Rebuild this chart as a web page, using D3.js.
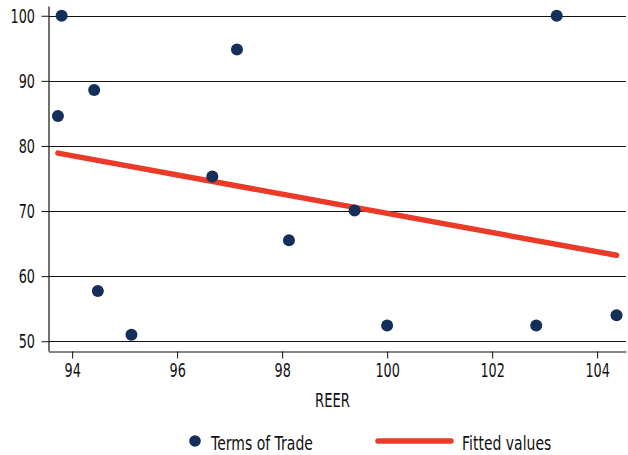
<!DOCTYPE html>
<html>
<head>
<meta charset="utf-8">
<script src="https://cdn.jsdelivr.net/npm/d3@7"></script>
<style>
    body { margin: 0; background: #fff; }
    text { font-family: "DejaVu Sans", sans-serif; fill: #111; }
    .axis path, .axis line { stroke: #111; }
</style>
</head>
<body>
<div id="chart"></div>
<script>
const WIDTH = 628;
const HEIGHT = 455;

// scatter points
const reer = [93.73, 93.80, 94.42, 94.49, 95.13, 96.67, 97.14, 98.13, 99.38, 100.0, 102.84, 103.23, 104.37];
const termsOfTrade = [84.6, 100.0, 88.6, 57.7, 51.0, 75.3, 94.8, 65.5, 70.1, 52.4, 52.4, 100.0, 54.0];

// fitted line end points
const fittedX = [93.73, 104.37];
const fittedY = [78.9, 63.2];

const xTicks = [94, 96, 98, 100, 102, 104];
const yTicks = [50, 60, 70, 80, 90, 100];

const NAVY = '#14305a';
const RED = '#ea3a28';
const FONT_SIZE = 20;

const xScale = d3.scaleLinear().domain([93.55, 104.55]).range([48.5, 626]);
const yScale = d3.scaleLinear().domain([48.5, 101.5]).range([351, 6]);

const svg = d3.select('#chart')
    .append('svg')
    .attr('width', WIDTH)
    .attr('height', HEIGHT);

// squeeze text horizontally, the source font is a narrow one
function condense(selection, sx) {
    selection.each(function () {
        const t = d3.select(this);
        const x = +t.attr('x') || 0;
        const y = +t.attr('y') || 0;
        t.attr('x', null).attr('y', null)
            .attr('transform', `translate(${x},${y}) scale(${sx},1)`);
    });
}

function addText(x, y, label, anchor, sx) {
    svg.append('text')
        .attr('x', x)
        .attr('y', y)
        .attr('text-anchor', anchor)
        .style('font-size', FONT_SIZE + 'px')
        .text(label)
        .call(condense, sx);
}

// horizontal grid lines
svg.append('g')
    .selectAll('line')
    .data(yTicks)
    .enter()
    .append('line')
    .attr('x1', xScale.range()[0])
    .attr('x2', xScale.range()[1])
    .attr('y1', d => Math.round(yScale(d)) + 0.5)
    .attr('y2', d => Math.round(yScale(d)) + 0.5)
    .attr('stroke', '#111')
    .attr('stroke-width', 1.2);

const xAxis = d3.axisBottom(xScale)
    .tickValues(xTicks)
    .tickSize(7)
    .tickPadding(4.5)
    .tickSizeOuter(0);

const yAxis = d3.axisLeft(yScale)
    .tickValues(yTicks)
    .tickSize(7)
    .tickPadding(6.5)
    .tickSizeOuter(0);

svg.append('g')
    .attr('class', 'axis')
    .attr('transform', 'translate(0,351.5)')
    .call(xAxis);

svg.append('g')
    .attr('class', 'axis')
    .attr('transform', 'translate(48.5,0)')
    .call(yAxis);

svg.selectAll('.axis text')
    .attr('fill', '#111')
    .style('font-family', '"DejaVu Sans", sans-serif')
    .style('font-size', FONT_SIZE + 'px')
    .call(condense, 0.64);

svg.selectAll('.axis path').attr('stroke-width', 1.2);

// axis title
addText(332.5, 406.5, 'REER', 'middle', 0.66);

// fitted line
const line = d3.line()
    .x(d => xScale(d[0]))
    .y(d => yScale(d[1]));

svg.append('path')
    .datum(d3.zip(fittedX, fittedY))
    .attr('d', line)
    .attr('fill', 'none')
    .attr('stroke', RED)
    .attr('stroke-width', 5.5)
    .attr('stroke-linecap', 'round');

// scatter points
svg.append('g')
    .selectAll('circle')
    .data(d3.zip(reer, termsOfTrade))
    .enter()
    .append('circle')
    .attr('cx', d => xScale(d[0]))
    .attr('cy', d => yScale(d[1]))
    .attr('r', 6)
    .attr('fill', NAVY);

// legend
svg.append('circle')
    .attr('cx', 195)
    .attr('cy', 441)
    .attr('r', 5.8)
    .attr('fill', NAVY);

addText(211, 450, 'Terms of Trade', 'start', 0.70);

svg.append('line')
    .attr('x1', 378)
    .attr('x2', 451)
    .attr('y1', 441)
    .attr('y2', 441)
    .attr('stroke', RED)
    .attr('stroke-width', 5.5)
    .attr('stroke-linecap', 'round');

addText(462, 450, 'Fitted values', 'start', 0.70);
</script>
</body>
</html>
